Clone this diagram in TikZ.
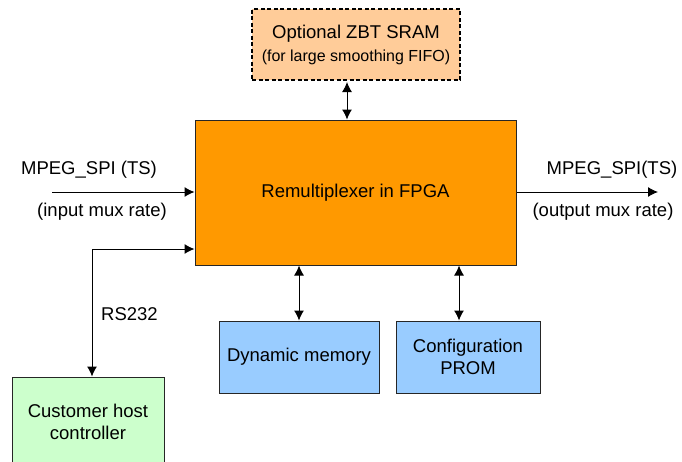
\documentclass[tikz,border=0pt]{standalone}
\usepackage{fontspec}
\setmainfont{Liberation Sans}
\usetikzlibrary{arrows.meta}
\definecolor{fpgaor}{HTML}{FF9900}
\definecolor{zbtor}{HTML}{FFCC99}
\definecolor{memblue}{HTML}{99CCFF}
\definecolor{hostgreen}{HTML}{CCFFCC}
\begin{document}
\begin{tikzpicture}[x=1pt,y=-1pt,
  box/.style={draw=black!85, line width=1pt, inner sep=0pt, align=center,
    font=\fontsize{18.5}{22}\selectfont},
  lbl/.style={inner sep=0pt, font=\fontsize{18.5}{22}\selectfont},
  conn/.style={line width=1pt, -{Latex[length=10pt,width=10pt]}},
  bi/.style={line width=1pt, {Latex[length=10pt,width=10pt]}-{Latex[length=10pt,width=10pt]}}]
\useasboundingbox (0,0) rectangle (682,461);
\clip (0,0) rectangle (682,461);

\node[box, fill=zbtor, draw=black, line width=2pt, dash pattern=on 4pt off 2.5pt, minimum width=208pt, minimum height=71pt] (zbt) at (356,44.5)
  {Optional ZBT SRAM\\[1pt]{\fontsize{16}{19}\selectfont (for large smoothing FIFO)}};
\node[box, fill=fpgaor, minimum width=321pt, minimum height=145pt] (fpga) at (355.5,192.5) {Remultiplexer in FPGA};
\node[box, fill=memblue, minimum width=160pt, minimum height=72pt] (dyn) at (299,357) {Dynamic memory};
\node[box, fill=memblue, minimum width=144pt, minimum height=72pt] (prom) at (468,357) {Configuration\\PROM};
\node[box, fill=hostgreen, minimum width=152pt, minimum height=90pt] (cust) at (88,422) {Customer host\\controller};

\node[lbl] (inlbl) at (89,170) {MPEG\_SPI (TS)};
\node[lbl] (inrate) at (102,212) {(input mux rate)};
\node[lbl] (outlbl) at (612,170) {MPEG\_SPI(TS)};
\node[lbl] (outrate) at (603,212) {(output mux rate)};
\node[lbl] (rs) at (129.5,314) {RS232};

\coordinate (in) at (52,192);
\coordinate (out) at (658,192);
\coordinate (corner) at (92,249);

\draw[bi] ([xshift=-9pt,yshift=-1pt]zbt.south) -- ([xshift=-9pt]zbt.south |- fpga.north);
\draw[bi] (dyn.north |- fpga.south) -- (dyn.north);
\draw[bi] ([xshift=-9pt]prom.north |- fpga.south) -- ([xshift=-9pt]prom.north);
\draw[conn] (in) -- (in -| fpga.west);
\draw[conn] (out -| fpga.east) -- (out);
\draw[bi] (corner |- cust.north) -- (corner) -- (corner -| fpga.west);
\end{tikzpicture}
\end{document}
